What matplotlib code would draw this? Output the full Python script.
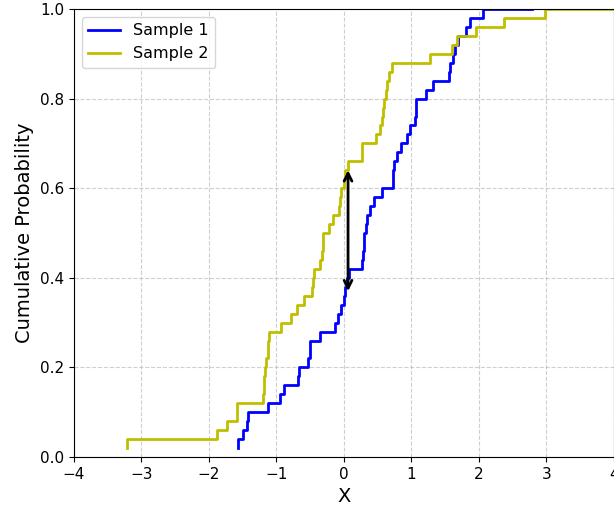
import numpy as np
import matplotlib.pyplot as plt


# DATA
sample1 = [
    -1.57, -1.50, -1.43, -1.42, -1.13, -0.95, -0.89, -0.68, -0.67, -0.53,
    -0.51, -0.50, -0.35, -0.13, -0.09, -0.05, 0.00, 0.02, 0.05, 0.08,
    0.26, 0.28, 0.29, 0.30, 0.32, 0.34, 0.39, 0.45, 0.56, 0.72,
    0.73, 0.74, 0.79, 0.85, 0.94, 0.98, 1.05, 1.06, 1.07, 1.22,
    1.32, 1.55, 1.57, 1.61, 1.64, 1.69, 1.81, 1.87, 2.06, 2.78,
]
sample2 = [
    -3.22, -1.88, -1.74, -1.585, -1.58, -1.20, -1.19, -1.18, -1.17, -1.15,
    -1.13, -1.12, -1.11, -0.93, -0.78, -0.70, -0.59, -0.47, -0.46, -0.45,
    -0.35, -0.32, -0.315, -0.31, -0.22, -0.16, -0.07, -0.06, -0.05, 0.00,
    0.02, 0.06, 0.26, 0.27, 0.48, 0.53, 0.57, 0.58, 0.59, 0.62,
    0.63, 0.67, 0.71, 1.27, 1.60, 1.67, 1.95, 2.37, 2.98, 4.30,
]
labels = ["Sample 1", "Sample 2"]

# KS arrow (x position, lower and upper ECDF value)
ks_x = 0.06
ks_low = 0.37
ks_high = 0.64


def ecdf(values):
    '''
    Returns sorted values and cumulative probabilities.
    '''
    x = np.sort(np.array(values))
    y = np.arange(1, len(x) + 1) / len(x)
    return x, y


def main():
    fig = plt.figure(figsize=(6.14, 5.11), dpi=100)
    ax = fig.add_axes([0.1205, 0.1057, 0.8795, 0.8767])

    x1, y1 = ecdf(sample1)
    x2, y2 = ecdf(sample2)

    ax.step(x1, y1, color="b", linewidth=2, label=labels[0])
    ax.step(x2, y2, color="y", linewidth=2, label=labels[1])

    ax.annotate(
        "",
        xy=(ks_x, ks_low),
        xytext=(ks_x, ks_high),
        arrowprops=dict(arrowstyle="<->", color="black", lw=2,
                        mutation_scale=14, shrinkA=0, shrinkB=0),
    )

    ax.set_xlim(-4, 4)
    ax.set_ylim(0, 1)
    ax.set_xticks(np.arange(-4, 5, 1))
    ax.set_yticks(np.arange(0, 1.01, 0.2))
    ax.tick_params(labelsize=11)

    ax.set_xlabel("X", fontsize=14)
    ax.set_ylabel("Cumulative Probability", fontsize=14)
    ax.grid(True, linestyle="--", alpha=0.6)
    ax.legend(loc="upper left", fontsize=11.5)

    fig.savefig("out.png", dpi=100)
    plt.close(fig)


# RUN
if __name__ == "__main__":
    main()
